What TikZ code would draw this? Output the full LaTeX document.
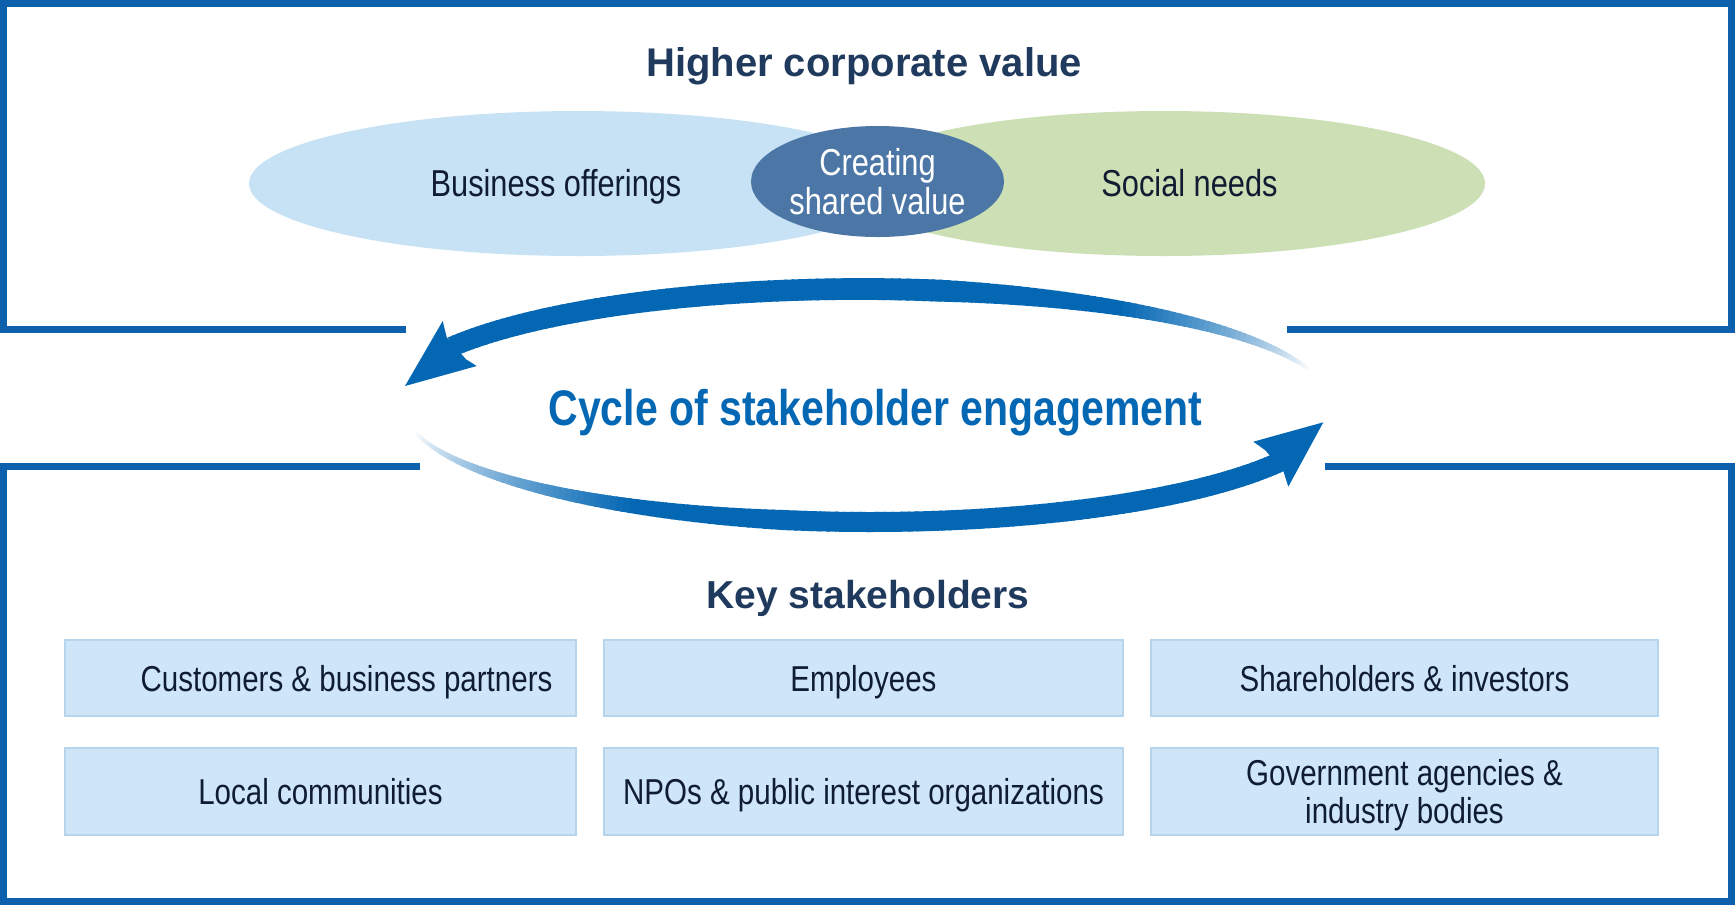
\documentclass[tikz,border=0pt]{standalone}
\usepackage{fontspec}
\setmainfont{Liberation Sans}
\newfontfamily\condf{Liberation Sans}[FakeStretch=0.82]
\usetikzlibrary{shapes.geometric}
\definecolor{framebl}{RGB}{12,96,172}
\definecolor{arrbl}{RGB}{4,103,180}
\definecolor{navy}{RGB}{32,58,94}
\definecolor{ink}{RGB}{16,28,50}
\definecolor{lblue}{RGB}{198,226,244}
\definecolor{lgreen}{RGB}{205,223,180}
\definecolor{csvbl}{RGB}{75,118,166}
\definecolor{boxfill}{RGB}{206,230,247}
\definecolor{boxline}{RGB}{182,212,236}
\begin{document}
\begin{tikzpicture}[x=1pt,y=-1pt,
  frameline/.style={draw=framebl, line width=7pt, line cap=butt, line join=miter},
  heading/.style={font=\fontsize{40}{44}\selectfont\bfseries, text=navy, anchor=base, inner sep=0pt},
  ellabel/.style={font=\condf\fontsize{37.5}{39}\selectfont, text=ink, anchor=base, inner sep=0pt},
  cyclelabel/.style={font=\condf\fontsize{50}{54}\selectfont\bfseries, text=arrbl, anchor=base, inner sep=0pt},
  blob/.style={ellipse, inner sep=0pt, minimum height=145pt},
  stkbox/.style={rectangle, fill=boxfill, draw=boxline, line width=1.5pt, text=ink,
     font=\condf\fontsize{36}{38}\selectfont, text height=26pt, text depth=0pt, inner sep=0pt}
]
\useasboundingbox (0,0) rectangle (1736,906);
\fill[white] (0,0) rectangle (1736,906);

% frames
\draw[frameline] (406,329.5) -- (3.5,329.5) -- (3.5,3.5) -- (1731.5,3.5) -- (1731.5,329.5) -- (1287,329.5);
\draw[frameline] (420,466) -- (3.5,466) -- (3.5,901.5) -- (1731.5,901.5) -- (1731.5,466) -- (1325,466);

% top ellipses
\node[blob, fill=lblue, minimum width=658pt] (bizell) at (578,183.5) {};
\node[blob, fill=lgreen, minimum width=642pt] (socell) at (1164,183.5) {};
\node[ellipse, inner sep=0pt, fill=csvbl, minimum width=253pt, minimum height=111pt,
      align=center, text=white, font=\condf\fontsize{37.5}{39}\selectfont] (csv) at (877.5,181.5) {Creating\\shared value};

\node[heading] (title) at (864,76) {Higher corporate value};
\node[ellabel] (bizoff) at (556,196.7) {Business offerings};
\node[ellabel] (social) at (1189.5,196.7) {Social needs};

% cycle arcs
\foreach \t in {16,...,149}{
  \pgfmathsetmacro\w{ifthenelse(\t<80, 3+19*(\t-16)/64, 22-2*(\t-80)/70)}
  \pgfmathsetmacro\c{min(100,max(0,100*(\t-16)/40))}
  \draw[line width=\w pt, arrbl!\c!white]
    ({860+470*cos(\t)},{403.4-114.4*sin(\t)}) -- ({860+470*cos(\t+1.3)},{403.4-114.4*sin(\t+1.3)});
}
\foreach \t in {28,...,168}{
  \pgfmathsetmacro\w{ifthenelse(\t>100, 20-18*(\t-100)/68, 20)}
  \pgfmathsetmacro\c{min(100,max(0,100*(168-\t)/48))}
  \draw[line width=\w pt, arrbl!\c!white]
    ({870+465*cos(\t)},{408.1+113.9*sin(\t)}) -- ({870+465*cos(\t+1.3)},{408.1+113.9*sin(\t+1.3)});
}
\coordinate (lt) at (405,386);
\coordinate (lb1) at (442.7,321);
\coordinate (lj1) at (446.7,337.3);
\coordinate (lj2) at (466,359.3);
\coordinate (lb2) at (476.7,366);
\fill[arrbl] (lt) -- (lb1) -- (lj1) -- (lj2) -- (lb2) -- cycle;
\coordinate (rt) at (1323.3,422.3);
\coordinate (rb1) at (1253.3,441.7);
\coordinate (rj1) at (1265,450);
\coordinate (rj2) at (1283.3,471);
\coordinate (rb2) at (1288.3,486.7);
\fill[arrbl] (rt) -- (rb1) -- (rj1) -- (rj2) -- (rb2) -- cycle;

\node[cyclelabel] (cycle) at (875.5,425) {Cycle of stakeholder engagement};

% stakeholders
\node[heading, font=\fontsize{39}{43}\selectfont\bfseries] (keysh) at (868,608) {Key stakeholders};

\node[stkbox, minimum width=511pt, minimum height=76pt] (cust) at (320.5,678) {\hspace*{52pt}Customers \& business partners};
\node[stkbox, minimum width=519pt, minimum height=76pt] (empl) at (863.5,678) {Employees};
\node[stkbox, minimum width=507pt, minimum height=76pt] (share) at (1404.5,678) {Shareholders \& investors};
\node[stkbox, minimum width=511pt, minimum height=87pt] (local) at (320.5,791.5) {Local communities};
\node[stkbox, minimum width=519pt, minimum height=87pt] (npo) at (863.5,791.5) {NPOs \& public interest organizations};
\node[stkbox, minimum width=507pt, minimum height=87pt, align=center, text height=64pt] (gov) at (1404.5,791.5) {Government agencies \&\\industry bodies};
\end{tikzpicture}
\end{document}
